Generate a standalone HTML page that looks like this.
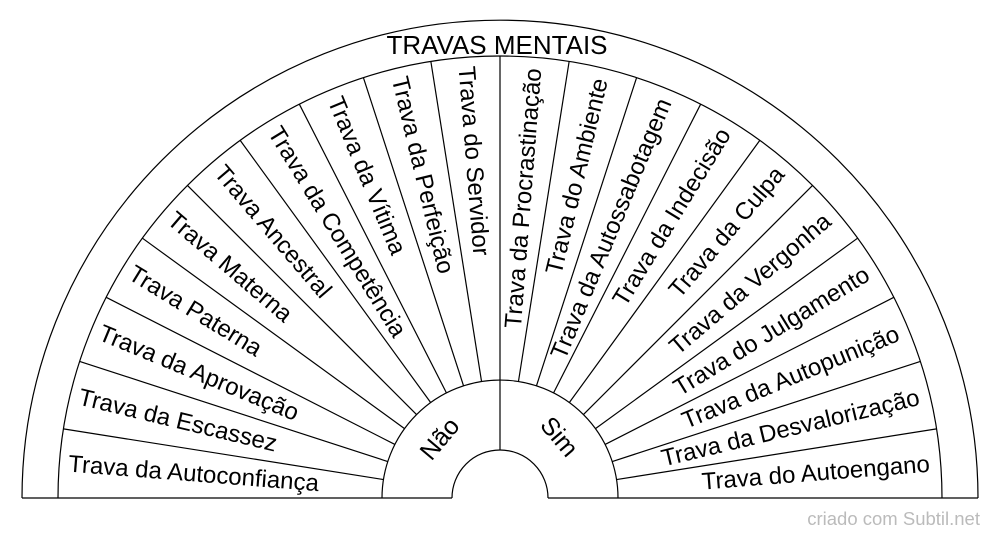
<!DOCTYPE html>
<html><head><meta charset="utf-8"><style>
html,body{margin:0;padding:0;background:#fff;}
svg{display:block;}
text{font-family:"Liberation Sans",Arial,sans-serif;fill:#000;}
</style></head><body>
<svg width="1000" height="540" viewBox="0 0 1000 540" xmlns="http://www.w3.org/2000/svg">
<g fill="none" stroke="#000" stroke-width="1.2">
<path d="M22 498 A478 478 0 0 1 978 498"/>
<path d="M58 498 A442 442 0 0 1 942 498"/>
<path d="M382 498 A118 118 0 0 1 618 498"/>
<path d="M452 498 A48 48 0 0 1 548 498"/>
<line x1="22" y1="498" x2="452" y2="498"/>
<line x1="548" y1="498" x2="978" y2="498"/>
<line x1="500" y1="450" x2="500" y2="56"/>
<line x1="58" y1="498" x2="382" y2="498" transform="rotate(9 500 498)"/>
<line x1="58" y1="498" x2="382" y2="498" transform="rotate(18 500 498)"/>
<line x1="58" y1="498" x2="382" y2="498" transform="rotate(27 500 498)"/>
<line x1="58" y1="498" x2="382" y2="498" transform="rotate(36 500 498)"/>
<line x1="58" y1="498" x2="382" y2="498" transform="rotate(45 500 498)"/>
<line x1="58" y1="498" x2="382" y2="498" transform="rotate(54 500 498)"/>
<line x1="58" y1="498" x2="382" y2="498" transform="rotate(63 500 498)"/>
<line x1="58" y1="498" x2="382" y2="498" transform="rotate(72 500 498)"/>
<line x1="58" y1="498" x2="382" y2="498" transform="rotate(81 500 498)"/>
<line x1="58" y1="498" x2="382" y2="498" transform="rotate(99 500 498)"/>
<line x1="58" y1="498" x2="382" y2="498" transform="rotate(108 500 498)"/>
<line x1="58" y1="498" x2="382" y2="498" transform="rotate(117 500 498)"/>
<line x1="58" y1="498" x2="382" y2="498" transform="rotate(126 500 498)"/>
<line x1="58" y1="498" x2="382" y2="498" transform="rotate(135 500 498)"/>
<line x1="58" y1="498" x2="382" y2="498" transform="rotate(144 500 498)"/>
<line x1="58" y1="498" x2="382" y2="498" transform="rotate(153 500 498)"/>
<line x1="58" y1="498" x2="382" y2="498" transform="rotate(162 500 498)"/>
<line x1="58" y1="498" x2="382" y2="498" transform="rotate(171 500 498)"/>
</g>
<text x="497" y="54" font-size="26" text-anchor="middle">TRAVAS MENTAIS</text>
<g font-size="24" dominant-baseline="central">
<text x="67" y="498" transform="rotate(4.5 500 498)">Trava da Autoconfiança</text>
<text x="67" y="498" transform="rotate(13.5 500 498)">Trava da Escassez</text>
<text x="67" y="498" transform="rotate(22.5 500 498)">Trava da Aprovação</text>
<text x="67" y="498" transform="rotate(31.5 500 498)">Trava Paterna</text>
<text x="67" y="498" transform="rotate(40.5 500 498)">Trava Materna</text>
<text x="67" y="498" transform="rotate(49.5 500 498)">Trava Ancestral</text>
<text x="67" y="498" transform="rotate(58.5 500 498)">Trava da Competência</text>
<text x="67" y="498" transform="rotate(67.5 500 498)">Trava da Vítima</text>
<text x="67" y="498" transform="rotate(76.5 500 498)">Trava da Perfeição</text>
<text x="67" y="498" transform="rotate(85.5 500 498)">Trava do Servidor</text>
</g>
<g font-size="24" dominant-baseline="central" text-anchor="end">
<text x="931" y="498" transform="rotate(-85.5 500 498)">Trava da Procrastinação</text>
<text x="931" y="498" transform="rotate(-76.5 500 498)">Trava do Ambiente</text>
<text x="931" y="498" transform="rotate(-67.5 500 498)">Trava da Autossabotagem</text>
<text x="931" y="498" transform="rotate(-58.5 500 498)">Trava da Indecisão</text>
<text x="931" y="498" transform="rotate(-49.5 500 498)">Trava da Culpa</text>
<text x="931" y="498" transform="rotate(-40.5 500 498)">Trava da Vergonha</text>
<text x="931" y="498" transform="rotate(-31.5 500 498)">Trava do Julgamento</text>
<text x="931" y="498" transform="rotate(-22.5 500 498)">Trava da Autopunição</text>
<text x="931" y="498" transform="rotate(-13.5 500 498)">Trava da Desvalorização</text>
<text x="931" y="498" transform="rotate(-4.5 500 498)">Trava do Autoengano</text>
</g>
<text x="0" y="0" font-size="25" text-anchor="middle" dominant-baseline="central" transform="translate(440 439) rotate(-50)">Não</text>
<text x="0" y="0" font-size="25" text-anchor="middle" dominant-baseline="central" transform="translate(559 437) rotate(50)">Sim</text>
<text x="980" y="525" font-size="18.5" text-anchor="end" style="fill:#bbb">criado com Subtil.net</text>
</svg>
</body></html>
